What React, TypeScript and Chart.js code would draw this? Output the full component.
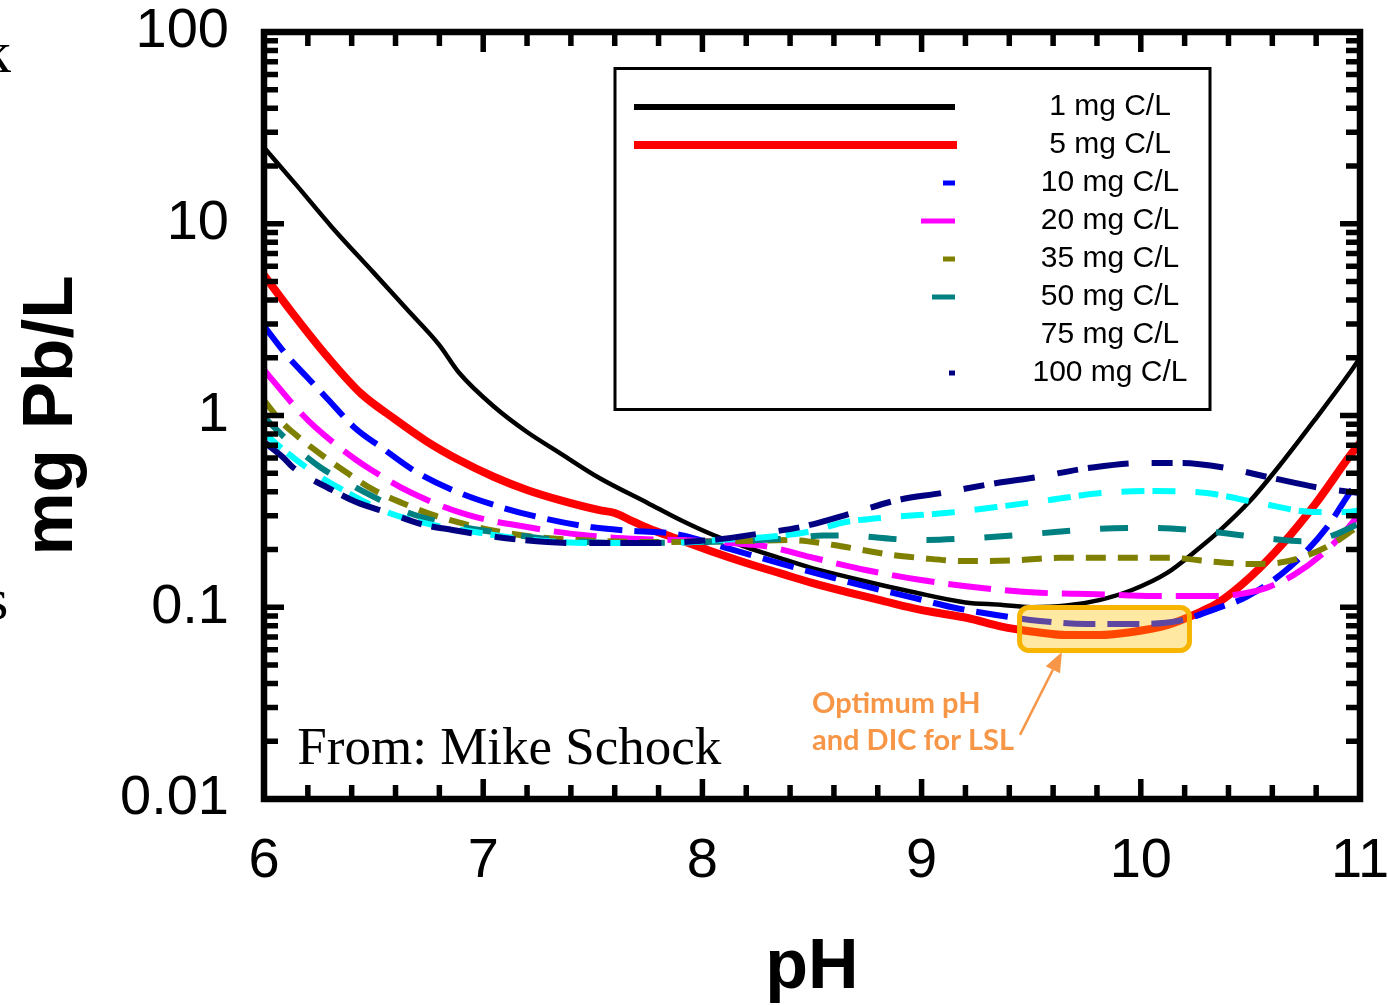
import React, { useEffect, useRef } from 'react';
import { Chart, registerables } from 'chart.js';

Chart.register(...registerables);

// ---------- data ----------
const seriesLabels = ['1 mg C/L', '5 mg C/L', '10 mg C/L', '20 mg C/L', '35 mg C/L', '50 mg C/L', '75 mg C/L', '100 mg C/L'];

const ph1 = [6.0, 6.15, 6.31, 6.5, 6.65, 6.8, 6.89, 7.05, 7.2, 7.35, 7.53, 7.75, 7.9, 8.05, 8.2, 8.35, 8.5, 8.66, 8.81, 8.96, 9.2, 9.36, 9.5, 9.66, 9.81, 9.96, 10.12, 10.27, 10.35, 10.5, 10.65, 10.8, 10.95, 11.0];
const pb1 = [25, 15.8, 9.6, 5.56, 3.6, 2.33, 1.67, 1.11, 0.82, 0.637, 0.472, 0.35, 0.285, 0.238, 0.206, 0.181, 0.16, 0.144, 0.131, 0.12, 0.106, 0.103, 0.1, 0.102, 0.109, 0.123, 0.151, 0.205, 0.245, 0.36, 0.58, 0.97, 1.65, 2.0];

const ph5 = [6.0, 6.13, 6.29, 6.44, 6.59, 6.74, 6.89, 7.05, 7.2, 7.35, 7.53, 7.6, 7.67, 7.75, 7.9, 8.05, 8.2, 8.35, 8.5, 8.66, 8.81, 8.96, 9.05, 9.21, 9.36, 9.51, 9.66, 9.81, 9.96, 10.12, 10.27, 10.35, 10.5, 10.65, 10.8, 10.95, 11.0];
const pb5 = [5.4, 3.42, 2.02, 1.31, 0.97, 0.736, 0.586, 0.478, 0.409, 0.362, 0.321, 0.31, 0.285, 0.259, 0.224, 0.194, 0.17, 0.151, 0.134, 0.12, 0.109, 0.099, 0.0944, 0.0879, 0.0795, 0.0745, 0.0716, 0.0716, 0.0743, 0.0807, 0.0944, 0.105, 0.144, 0.216, 0.35, 0.608, 0.72];

const ph10 = [6.0, 6.11, 6.2, 6.29, 6.415, 6.54, 6.68, 6.86, 7.08, 7.27, 7.49, 7.68, 7.88, 7.99, 8.14, 8.35, 8.55, 8.75, 8.95, 9.14, 9.34, 9.54, 9.75, 9.95, 10.17, 10.35, 10.48, 10.68, 10.85, 10.95, 11.0];
const pb10 = [2.93, 2.02, 1.57, 1.22, 0.861, 0.676, 0.52, 0.409, 0.333, 0.292, 0.262, 0.25, 0.241, 0.224, 0.199, 0.17, 0.147, 0.128, 0.113, 0.1, 0.0912, 0.0848, 0.0818, 0.0818, 0.0848, 0.099, 0.113, 0.162, 0.262, 0.39, 0.47];

const ph20 = [6.0, 6.155, 6.233, 6.415, 6.49, 6.675, 6.93, 7.2, 7.455, 7.715, 7.91, 8.13, 8.31, 8.49, 8.75, 8.99, 9.275, 9.54, 9.8, 10.06, 10.32, 10.45, 10.58, 10.7, 10.83, 10.92, 11.0];
const pb20 = [1.73, 1.07, 0.871, 0.593, 0.52, 0.394, 0.303, 0.262, 0.238, 0.227, 0.224, 0.216, 0.206, 0.183, 0.156, 0.139, 0.126, 0.119, 0.117, 0.1145, 0.1145, 0.117, 0.127, 0.148, 0.19, 0.24, 0.31];

const ph35 = [6.0, 6.08, 6.13, 6.22, 6.36, 6.5, 6.63, 6.77, 6.93, 7.08, 7.25, 7.44, 7.75, 8.13, 8.4, 8.6, 8.73, 8.87, 8.99, 9.2, 9.44, 9.63, 9.9, 10.13, 10.35, 10.5, 10.62, 10.74, 10.88, 11.0];
const pb35 = [1.2, 0.925, 0.82, 0.677, 0.52, 0.409, 0.35, 0.303, 0.269, 0.247, 0.232, 0.224, 0.219, 0.221, 0.224, 0.211, 0.199, 0.187, 0.181, 0.174, 0.176, 0.181, 0.181, 0.181, 0.172, 0.168, 0.17, 0.183, 0.216, 0.269];

const ph50 = [6.0, 6.12, 6.255, 6.38, 6.53, 6.65, 6.8, 6.93, 7.08, 7.35, 7.67, 7.99, 8.26, 8.43, 8.55, 8.7, 8.85, 9.0, 9.25, 9.5, 9.8, 10.06, 10.33, 10.6, 10.74, 10.88, 11.0];
const pb50 = [0.98, 0.72, 0.539, 0.445, 0.362, 0.314, 0.279, 0.259, 0.244, 0.224, 0.216, 0.219, 0.224, 0.23, 0.237, 0.236, 0.228, 0.224, 0.23, 0.241, 0.256, 0.259, 0.247, 0.227, 0.221, 0.238, 0.275];

const ph75 = [6.0, 6.09, 6.23, 6.36, 6.56, 6.77, 6.99, 7.23, 7.53, 7.81, 8.08, 8.28, 8.48, 8.66, 8.87, 9.11, 9.34, 9.58, 9.82, 10.07, 10.3, 10.54, 10.79, 10.94, 11.0];
const pb75 = [0.811, 0.661, 0.501, 0.409, 0.314, 0.269, 0.244, 0.224, 0.216, 0.216, 0.224, 0.232, 0.247, 0.279, 0.296, 0.31, 0.333, 0.362, 0.394, 0.404, 0.394, 0.35, 0.314, 0.314, 0.321];

const ph100 = [6.0, 6.09, 6.13, 6.31, 6.42, 6.57, 6.73, 6.86, 7.0, 7.18, 7.44, 7.75, 8.04, 8.28, 8.45, 8.7, 8.89, 9.09, 9.32, 9.53, 9.76, 10.0, 10.19, 10.39, 10.6, 10.82, 11.0];
const pb100 = [0.728, 0.6, 0.539, 0.409, 0.354, 0.31, 0.269, 0.253, 0.238, 0.224, 0.216, 0.216, 0.224, 0.244, 0.262, 0.314, 0.362, 0.394, 0.44, 0.478, 0.532, 0.565, 0.565, 0.532, 0.472, 0.419, 0.394];

const seriesPh = [ph1, ph5, ph10, ph20, ph35, ph50, ph75, ph100];
const seriesPb = [pb1, pb5, pb10, pb20, pb35, pb50, pb75, pb100];

const xTickValues = [6, 7, 8, 9, 10, 11];
const xTickLabels = ['6', '7', '8', '9', '10', '11'];
const yTickValues = [0.01, 0.1, 1, 10, 100];
const yTickLabels = ['0.01', '0.1', '1', '10', '100'];

const xTitle = 'pH';
const yTitle = 'mg Pb/L';
const creditText = 'From: Mike Schock';
const noteLines = ['Optimum pH', 'and DIC for LSL'];
const cutLetters = ['k', 's'];

// annotation anchors (data coordinates)
const highlightBox = { phMin: 9.447, phMax: 10.222, pbTop: 0.0997, pbBottom: 0.0595 };
const arrowFrom = { ph: 9.449, pb: 0.0216 };
const arrowTo = { ph: 9.64, pb: 0.0585 };
const noteAnchor = { ph: 8.5, pb1: 0.0281, pb2: 0.018 };
const creditAnchor = { ph: 6.152, pb: 0.0153 };

// ---------- styles ----------
const seriesStyles = [
  { color: '#000000', width: 4.5, dash: [] as number[], legendLen: 321, legendWidth: 6 },
  { color: '#FF0000', width: 8, dash: [] as number[], legendLen: 323, legendWidth: 8 },
  { color: '#0000FF', width: 6, dash: [32, 12], legendLen: 12, legendWidth: 5 },
  { color: '#FF00FF', width: 6, dash: [43, 14], legendLen: 34, legendWidth: 5 },
  { color: '#808000', width: 6, dash: [20, 12], legendLen: 12, legendWidth: 5 },
  { color: '#008080', width: 6, dash: [28, 30], legendLen: 23, legendWidth: 5 },
  { color: '#00FFFF', width: 6, dash: [23, 8, 23, 20], legendLen: 0, legendWidth: 5 },
  { color: '#000080', width: 6, dash: [41, 23, 21, 10], legendLen: 6, legendWidth: 5 },
];

const SANS = '"Liberation Sans", Arial, sans-serif';
const SERIF = '"Liberation Serif", "Times New Roman", serif';
const ORANGE = '#F79646';

const decorPlugin = {
  id: 'decor',
  afterDatasetsDraw(chart: any) {
    const { ctx, chartArea: ca, scales } = chart;
    const xs = scales.x;
    const ys = scales.y;
    const px = (v: number) => xs.getPixelForValue(v);
    const py = (v: number) => ys.getPixelForValue(v);
    ctx.save();

    // highlight box
    const bx0 = px(highlightBox.phMin), bx1 = px(highlightBox.phMax);
    const by0 = py(highlightBox.pbTop), by1 = py(highlightBox.pbBottom);
    ctx.beginPath();
    ctx.roundRect(bx0, by0, bx1 - bx0, by1 - by0, 9);
    ctx.fillStyle = 'rgba(255,192,0,0.37)';
    ctx.fill();
    ctx.lineWidth = 5;
    ctx.strokeStyle = '#F7B500';
    ctx.stroke();

    // arrow
    const ax0 = px(arrowFrom.ph), ay0 = py(arrowFrom.pb);
    const ax1 = px(arrowTo.ph), ay1 = py(arrowTo.pb);
    const ang = Math.atan2(ay1 - ay0, ax1 - ax0);
    const headLen = 20, headHalf = 8;
    const hbx = ax1 - headLen * Math.cos(ang), hby = ay1 - headLen * Math.sin(ang);
    ctx.strokeStyle = ORANGE;
    ctx.fillStyle = ORANGE;
    ctx.lineWidth = 2.5;
    ctx.beginPath();
    ctx.moveTo(ax0, ay0);
    ctx.lineTo(hbx, hby);
    ctx.stroke();
    ctx.beginPath();
    ctx.moveTo(ax1, ay1);
    ctx.lineTo(hbx + headHalf * Math.sin(ang), hby - headHalf * Math.cos(ang));
    ctx.lineTo(hbx - headHalf * Math.sin(ang), hby + headHalf * Math.cos(ang));
    ctx.closePath();
    ctx.fill();

    // note text
    ctx.font = 'bold 29px Lato, "Open Sans", sans-serif';
    ctx.textAlign = 'left';
    ctx.textBaseline = 'alphabetic';
    ctx.fillText(noteLines[0], px(noteAnchor.ph), py(noteAnchor.pb1));
    ctx.fillText(noteLines[1], px(noteAnchor.ph), py(noteAnchor.pb2));

    // credit text
    ctx.fillStyle = '#000';
    ctx.font = `53px ${SERIF}`;
    ctx.fillText(creditText, px(creditAnchor.ph), py(creditAnchor.pb));

    // cut-off letters on the left edge
    ctx.font = `60px ${SERIF}`;
    ctx.fillText(cutLetters[0], -19, 72);
    ctx.fillText(cutLetters[1], -15, 619);

    // frame
    ctx.strokeStyle = '#000';
    ctx.lineWidth = 6.5;
    ctx.strokeRect(ca.left, ca.top, ca.right - ca.left, ca.bottom - ca.top);

    // ticks (inward)
    ctx.lineWidth = 5.5;
    ctx.lineCap = 'butt';
    ctx.beginPath();
    for (let i = 1; i < 25; i++) {
      const v = 6 + i * 0.2;
      const major = i % 5 === 0;
      const len = major ? 20 : 14;
      const x = px(v);
      ctx.moveTo(x, ca.bottom);
      ctx.lineTo(x, ca.bottom - len);
      ctx.moveTo(x, ca.top);
      ctx.lineTo(x, ca.top + len);
    }
    for (let e = -2; e <= 1; e++) {
      for (let m = 1; m <= 9; m++) {
        if (e === -2 && m === 1) continue;
        const v = m * Math.pow(10, e);
        const major = m === 1;
        const len = major ? 20 : 14;
        const y = py(v);
        ctx.moveTo(ca.left, y);
        ctx.lineTo(ca.left + len, y);
        ctx.moveTo(ca.right, y);
        ctx.lineTo(ca.right - len, y);
      }
    }
    ctx.stroke();

    // legend
    const lx0 = 615, ly0 = 68.5, lw = 595, lh = 341;
    ctx.fillStyle = '#fff';
    ctx.fillRect(lx0, ly0, lw, lh);
    ctx.strokeStyle = '#000';
    ctx.lineWidth = 3;
    ctx.strokeRect(lx0, ly0, lw, lh);
    ctx.font = `30px ${SANS}`;
    ctx.textAlign = 'center';
    ctx.textBaseline = 'middle';
    chart.data.datasets.forEach((ds: any, i: number) => {
      const st = seriesStyles[i];
      const rowY = 107 + i * 38;
      if (st.legendLen > 0) {
        ctx.strokeStyle = st.color;
        ctx.lineWidth = st.legendWidth;
        ctx.beginPath();
        const end = i === 1 ? 957 : 955;
        ctx.moveTo(end - st.legendLen, rowY);
        ctx.lineTo(end, rowY);
        ctx.stroke();
      }
      ctx.fillStyle = '#000';
      ctx.fillText(ds.label, 1110, rowY);
    });

    ctx.restore();
  },
};

export default function App() {
  const ref = useRef<HTMLCanvasElement | null>(null);
  useEffect(() => {
    if (!ref.current) return;
    const datasets = seriesLabels.map((label, i) => ({
      label,
      data: seriesPh[i].map((x, j) => ({ x, y: seriesPb[i][j] })),
      borderColor: seriesStyles[i].color,
      backgroundColor: seriesStyles[i].color,
      borderWidth: seriesStyles[i].width,
      borderDash: seriesStyles[i].dash,
      borderCapStyle: 'butt',
      borderJoinStyle: 'round',
      pointRadius: 0,
      fill: false,
      cubicInterpolationMode: 'monotone',
      order: seriesLabels.length - i,
    }));
    const chart = new Chart(ref.current, {
      type: 'line',
      data: { datasets } as any,
      options: {
        animation: false,
        responsive: false,
        devicePixelRatio: 1,
        events: [],
        layout: { padding: { left: 0, top: 32, right: 28, bottom: 0 } },
        plugins: { legend: { display: false }, tooltip: { enabled: false }, title: { display: false } },
        scales: {
          x: {
            type: 'linear',
            min: 6,
            max: 11,
            afterBuildTicks: (s: any) => { s.ticks = xTickValues.map((v) => ({ value: v })); },
            afterFit: (s: any) => { s.height = 206; s.paddingLeft = 0; s.paddingRight = 0; },
            ticks: {
              autoSkip: false,
              maxRotation: 0,
              padding: 29,
              color: '#000',
              font: { family: SANS, size: 56 },
              callback: (v: any) => { const k = xTickValues.indexOf(Number(v)); return k >= 0 ? xTickLabels[k] : ''; },
            },
            grid: { display: false, drawTicks: false },
            border: { display: false },
            title: { display: true, text: xTitle, color: '#000', font: { family: SANS, size: 70, weight: 'bold', lineHeight: 1 }, padding: { top: 0, bottom: 1 } },
          },
          y: {
            type: 'logarithmic',
            min: 0.01,
            max: 100,
            afterBuildTicks: (s: any) => { s.ticks = yTickValues.map((v) => ({ value: v })); },
            afterFit: (s: any) => { s.width = 264; s.paddingTop = 0; s.paddingBottom = 0; },
            ticks: {
              autoSkip: false,
              padding: 35,
              color: '#000',
              font: { family: SANS, size: 56 },
              callback: (v: any) => { const k = yTickValues.indexOf(Number(v)); return k >= 0 ? yTickLabels[k] : ''; },
            },
            grid: { display: false, drawTicks: false },
            border: { display: false },
            title: { display: true, text: yTitle, color: '#000', font: { family: SANS, size: 71, weight: 'bold', lineHeight: 1 }, padding: { top: 17, bottom: 0 } },
          },
        },
      } as any,
      plugins: [decorPlugin],
    });
    return () => chart.destroy();
  }, []);
  return (
    <div style={{ position: 'fixed', left: 0, top: 0, width: 1388, height: 1005, background: '#fff' }}>
      <canvas ref={ref} width={1388} height={1005} style={{ display: 'block' }} />
    </div>
  );
}
